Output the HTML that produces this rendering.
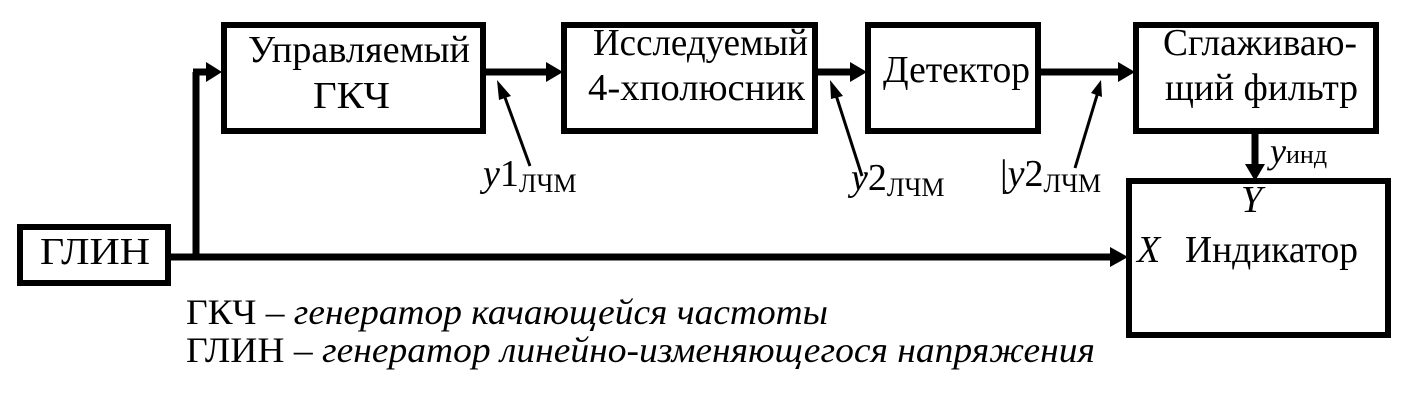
<!DOCTYPE html>
<html><head><meta charset="utf-8"><style>
html,body{margin:0;padding:0;background:#fff;}
svg{display:block}
text{font-family:"Liberation Serif","Times New Roman",serif;fill:#000;}
</style></head><body>
<svg width="1403" height="401" viewBox="0 0 1403 401">
<g fill="none" stroke="#000" stroke-width="6">
<rect x="224" y="25" width="259" height="106"/>
<rect x="564" y="25" width="251" height="106"/>
<rect x="868" y="25" width="170" height="106"/>
<rect x="1136" y="25" width="240" height="106"/>
<rect x="1129" y="181" width="259" height="154"/>
<rect x="20" y="227" width="148" height="56"/>
</g>
<g stroke="#000" stroke-width="7" fill="none">
<line x1="196" y1="255" x2="196" y2="72"/>
<line x1="193" y1="72" x2="208" y2="72"/>
<line x1="168" y1="257" x2="1112" y2="257"/>
<line x1="483" y1="72" x2="548" y2="72"/>
<line x1="815" y1="72" x2="852" y2="72"/>
<line x1="1038" y1="72" x2="1120" y2="72"/>
<line x1="1255" y1="131" x2="1255" y2="166"/>
</g>
<g fill="#000">
<polygon points="206,62 222,72 206,82"/>
<polygon points="1110,247 1128,257 1110,267"/>
<polygon points="546,62 563,72 546,82"/>
<polygon points="850,62 867,72 850,82"/>
<polygon points="1118,62 1135,72 1118,82"/>
<polygon points="1245,164 1255,181 1265,164"/>
</g>
<g stroke="#000" stroke-width="3">
<line x1="530" y1="166" x2="503" y2="92"/>
<line x1="862" y1="176" x2="835" y2="92"/>
<line x1="1075" y1="168" x2="1098" y2="92"/>
</g>
<g fill="#000">
<polygon points="497,80 511,96 499,100"/>
<polygon points="830,80 843,96 831,99"/>
<polygon points="1101,80 1102,97 1091,93"/>
</g>
<g font-size="38">
<text x="248" y="62" textLength="222" lengthAdjust="spacingAndGlyphs">Управляемый</text>
<text x="313" y="108" textLength="77" lengthAdjust="spacingAndGlyphs">ГКЧ</text>
<text x="593" y="55" textLength="215" lengthAdjust="spacingAndGlyphs">Исследуемый</text>
<text x="588" y="100" textLength="217" lengthAdjust="spacingAndGlyphs">4-хполюсник</text>
<text x="883" y="82" textLength="147" lengthAdjust="spacingAndGlyphs">Детектор</text>
<text x="1163" y="55" textLength="194" lengthAdjust="spacingAndGlyphs">Сглаживаю-</text>
<text x="1165" y="100" textLength="193" lengthAdjust="spacingAndGlyphs">щий фильтр</text>
<text x="40" y="264" textLength="110" lengthAdjust="spacingAndGlyphs">ГЛИН</text>
<text x="1241" y="212" font-style="italic">Y</text>
<text x="1137" y="262" font-style="italic">X</text>
<text x="1185" y="262" textLength="173" lengthAdjust="spacingAndGlyphs">Индикатор</text>
</g>
<text x="1270" y="163" font-size="36" font-style="italic">y<tspan font-style="normal" font-size="26">инд</tspan></text>
<text x="483" y="186" font-size="38"><tspan font-style="italic">y</tspan>1<tspan font-size="26" dy="6">ЛЧМ</tspan></text>
<text x="851" y="190" font-size="38"><tspan font-style="italic">y</tspan>2<tspan font-size="26" dy="6">ЛЧМ</tspan></text>
<text x="1000" y="186" font-size="38">|<tspan font-style="italic">y</tspan>2<tspan font-size="26" dy="6">ЛЧМ</tspan></text>
<text x="186" y="324" font-size="36" textLength="642" lengthAdjust="spacingAndGlyphs">ГКЧ – <tspan font-style="italic">генератор качающейся частоты</tspan></text>
<text x="186" y="362" font-size="36" textLength="909" lengthAdjust="spacingAndGlyphs">ГЛИН – <tspan font-style="italic">генератор линейно-изменяющегося напряжения</tspan></text>
</svg>
</body></html>
